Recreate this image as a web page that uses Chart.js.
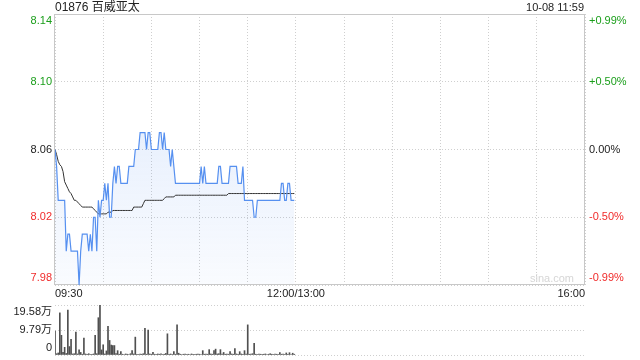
<!DOCTYPE html>
<html>
<head>
<meta charset="utf-8">
<script src="https://cdn.jsdelivr.net/npm/chart.js@4.4.0/dist/chart.umd.min.js"></script>
<style>
  html, body { margin: 0; padding: 0; background: #fff; }
  #wrap { position: relative; width: 640px; height: 360px; font-family: Arial, "Liberation Sans", "Noto Sans CJK SC", sans-serif; color: #222; }
  #title { position: absolute; left: 55px; top: 0; font-size: 12px; line-height: 14px; }
  #stamp { position: absolute; right: 56px; top: 0; font-size: 11px; line-height: 14px; }
  #priceCanvas { position: absolute; left: 0; top: 0; }
  #volCanvas { position: absolute; left: 0; top: 295px; }
</style>
</head>
<body>
<div id="wrap">
  <canvas id="priceCanvas" width="640" height="300"></canvas>
  <canvas id="volCanvas" width="640" height="65"></canvas>
  <div id="title"></div>
  <div id="stamp"></div>
</div>
<script>
const stockName = '01876 百威亚太';
const stampText = '10-08 11:59';
const preClose = 8.06;

// minutes since 09:30 (12:00-13:00 break removed), one value per minute up to 11:59
const prices = [
  8.06, 8.05, 8.03, 8.03, 8.03, 8.03, 8.03, 8.00, 8.01, 8.01,
  8.00, 8.00, 8.00, 8.00, 8.00, 7.98, 8.00, 8.01, 8.01, 8.01,
  8.01, 8.00, 8.01, 8.00, 8.02, 8.02, 8.00, 8.03, 8.02, 8.03,
  8.03, 8.04, 8.03, 8.04, 8.02, 8.02, 8.04, 8.05, 8.04, 8.05,
  8.05, 8.04, 8.04, 8.04, 8.04, 8.04, 8.05, 8.05, 8.05, 8.05,
  8.06, 8.06, 8.06, 8.07, 8.07, 8.07, 8.07, 8.06, 8.07, 8.07,
  8.06, 8.06, 8.06, 8.06, 8.06, 8.07, 8.07, 8.06, 8.07, 8.06,
  8.06, 8.06, 8.05, 8.06, 8.05, 8.04, 8.04, 8.04, 8.04, 8.04,
  8.04, 8.04, 8.04, 8.04, 8.04, 8.04, 8.04, 8.04, 8.04, 8.04,
  8.04, 8.05, 8.04, 8.05, 8.04, 8.04, 8.04, 8.04, 8.04, 8.04,
  8.04, 8.04, 8.05, 8.05, 8.04, 8.04, 8.04, 8.04, 8.04, 8.05,
  8.05, 8.05, 8.05, 8.05, 8.04, 8.04, 8.04, 8.05, 8.03, 8.03,
  8.03, 8.03, 8.03, 8.03, 8.02, 8.02, 8.03, 8.03, 8.03, 8.03,
  8.03, 8.03, 8.03, 8.03, 8.03, 8.03, 8.03, 8.03, 8.03, 8.03,
  8.03, 8.04, 8.04, 8.03, 8.03, 8.04, 8.04, 8.03, 8.03, 8.03
];

const avgPrices = [
  8.060, 8.057, 8.053, 8.051, 8.050, 8.047, 8.041, 8.039, 8.037, 8.035,
  8.034, 8.032, 8.030, 8.030, 8.029, 8.028, 8.027, 8.026, 8.026, 8.026,
  8.026, 8.026, 8.026, 8.026, 8.025, 8.024, 8.023, 8.022, 8.022, 8.022,
  8.022, 8.022, 8.022, 8.023, 8.023, 8.023, 8.024, 8.024, 8.024, 8.024,
  8.024, 8.024, 8.024, 8.024, 8.024, 8.024, 8.024, 8.024, 8.024, 8.026,
  8.026, 8.026, 8.026, 8.026, 8.026, 8.028, 8.030, 8.030, 8.030, 8.030,
  8.030, 8.030, 8.030, 8.030, 8.030, 8.030, 8.030, 8.030, 8.031, 8.032,
  8.032, 8.032, 8.032, 8.032, 8.032, 8.033, 8.033, 8.033, 8.033, 8.033,
  8.033, 8.033, 8.033, 8.033, 8.033, 8.033, 8.033, 8.033, 8.033, 8.033,
  8.033, 8.033, 8.033, 8.033, 8.033, 8.033, 8.033, 8.033, 8.033, 8.033,
  8.033, 8.033, 8.033, 8.033, 8.033, 8.033, 8.033, 8.033, 8.034, 8.034,
  8.034, 8.034, 8.034, 8.034, 8.034, 8.034, 8.034, 8.034, 8.034, 8.034,
  8.034, 8.034, 8.034, 8.034, 8.034, 8.034, 8.034, 8.034, 8.034, 8.034,
  8.034, 8.034, 8.034, 8.034, 8.034, 8.034, 8.034, 8.034, 8.034, 8.034,
  8.034, 8.034, 8.034, 8.034, 8.034, 8.034, 8.034, 8.034, 8.034, 8.034
];

// volume per minute, in 万 shares
const volumes = [
  9.4, 0.5, 0.8, 16.5, 7.7, 1.0, 3.0, 0.6, 17.6, 3.3,
  6.1, 0.4, 0.5, 9.0, 0.4, 2.0, 1.0, 0.3, 6.6, 0.4,
  0.3, 0.5, 0.2, 0.3, 0.4, 7.7, 0.5, 14.6, 19.58, 2.0,
  4.0, 0.4, 1.6, 11.2, 5.7, 3.9, 3.7, 3.7, 0.6, 1.7,
  0.3, 1.3, 0.3, 0.2, 0.4, 0.3, 0.2, 0.5, 1.7, 0.4,
  7.0, 0.3, 0.2, 0.4, 0.3, 0.5, 10.4, 0.3, 9.8, 0.4,
  0.3, 1.0, 0.3, 0.2, 0.4, 0.3, 0.5, 0.2, 0.3, 0.6,
  8.3, 0.3, 0.4, 0.2, 1.3, 0.3, 11.8, 0.7, 0.3, 0.2,
  0.3, 0.4, 0.2, 0.3, 0.2, 0.4, 0.3, 0.2, 0.3, 0.4,
  0.3, 0.2, 1.7, 0.3, 0.4, 0.3, 2.1, 0.4, 0.3, 1.7,
  2.3, 0.4, 0.5, 2.1, 0.4, 1.0, 0.3, 0.4, 0.3, 1.3,
  0.4, 0.3, 2.5, 0.4, 0.3, 1.3, 0.4, 0.3, 1.7, 0.4,
  11.8, 0.3, 0.4, 0.5, 4.6, 0.3, 0.2, 0.4, 0.3, 0.2,
  0.3, 0.4, 0.2, 0.3, 0.5, 0.3, 0.2, 0.4, 0.3, 0.2,
  0.9, 0.3, 0.4, 0.2, 0.8, 0.3, 0.9, 0.2, 0.7, 0.3
];

const priceTicks = [7.98, 8.02, 8.06, 8.10, 8.14];
const volTicks = [0, 9.79, 19.58];
const volTickText = ['0', '9.79万', '19.58万'];
const gridMinutes = [0, 30, 60, 90, 120, 150, 180, 210, 240, 270, 300, 330];
const timeTickPos = [0, 150, 330];
const timeTickText = ['09:30', '12:00/13:00', '16:00'];

document.getElementById('title').textContent = stockName;
document.getElementById('stamp').textContent = stampText;

Chart.defaults.font.family = 'Arial, "Liberation Sans", "Noto Sans CJK SC", sans-serif';
Chart.defaults.font.size = 11;
Chart.defaults.color = '#222';

const GREEN = '#1a9e1a';
const RED = '#f02b2b';

function priceColor(v) {
  if (Math.abs(v - preClose) < 1e-6) return '#222';
  return v > preClose ? GREEN : RED;
}

function pctText(v) {
  const p = (v / preClose - 1) * 100;
  if (Math.abs(p) < 0.005) return '0.00%';
  return (p > 0 ? '+' : '') + p.toFixed(2) + '%';
}

// keep edge labels inside the plot by pushing them half a line inward
function edgeLabel(text, index, count) {
  if (index === count - 1) return ['', text];
  if (index === 0) return [text, ''];
  return text;
}

function fixedWidth(w) {
  return function(scale) {
    scale.width = w;
    scale.paddingTop = 0;
    scale.paddingBottom = 0;
  };
}

const framePlugin = {
  id: 'frame',
  beforeDatasetsDraw(chart) {
    const { ctx, chartArea: a } = chart;
    ctx.save();
    ctx.strokeStyle = '#c8c8c8';
    ctx.lineWidth = 1;
    ctx.strokeRect(a.left - 0.5, a.top + 0.5, a.width, a.height - 1);
    ctx.fillStyle = '#d6d6d6';
    ctx.font = '11px Arial, "Liberation Sans", sans-serif';
    ctx.textAlign = 'right';
    ctx.textBaseline = 'middle';
    ctx.fillText('sina.com', a.right - 11, a.bottom - 6);
    ctx.restore();
  }
};

function initPriceChart() {
  const ctx = document.getElementById('priceCanvas').getContext('2d');
  new Chart(ctx, {
    type: 'line',
    data: {
      datasets: [
        {
          label: '价格',
          data: prices.map((p, i) => ({ x: i, y: p })),
          borderColor: '#5690f0',
          borderWidth: 1.2,
          pointRadius: 0,
          tension: 0,
          fill: 'start',
          backgroundColor: function(context) {
            const area = context.chart.chartArea;
            if (!area) return 'rgba(80,140,240,0.1)';
            const g = context.chart.ctx.createLinearGradient(0, area.top, 0, area.bottom);
            g.addColorStop(0, 'rgba(80,140,240,0.20)');
            g.addColorStop(1, 'rgba(80,140,240,0.03)');
            return g;
          }
        },
        {
          label: '均价',
          data: avgPrices.map((p, i) => ({ x: i, y: p })),
          borderColor: '#333',
          borderWidth: 1,
          pointRadius: 0,
          tension: 0,
          fill: false
        }
      ]
    },
    options: {
      responsive: false,
      animation: false,
      layout: { padding: { top: 14, left: 0, right: 0, bottom: 0 } },
      plugins: {
        legend: { display: false },
        tooltip: { enabled: false },
        filler: { drawTime: 'beforeDatasetsDraw' }
      },
      scales: {
        x: {
          type: 'linear',
          min: 0,
          max: 330,
          afterBuildTicks: function(scale) {
            scale.ticks = gridMinutes.map(v => ({ value: v }));
          },
          afterFit: function(scale) {
            scale.height = 15;
            scale.paddingLeft = 0;
            scale.paddingRight = 0;
          },
          ticks: {
            align: 'inner',
            autoSkip: false,
            maxRotation: 0,
            padding: 2,
            color: '#222',
            callback: function(value) {
              const k = timeTickPos.indexOf(value);
              return k >= 0 ? timeTickText[k] : '';
            }
          },
          grid: { color: '#cfcfcf', drawTicks: false },
          border: { display: false, dash: [1, 2] }
        },
        y: {
          position: 'left',
          min: priceTicks[0],
          max: priceTicks[priceTicks.length - 1],
          afterBuildTicks: function(scale) {
            scale.ticks = priceTicks.map(v => ({ value: v }));
          },
          afterFit: fixedWidth(55),
          ticks: {
            padding: 3,
            autoSkip: false,
            color: ctx => priceColor(ctx.tick.value),
            callback: function(value, index, ticks) {
              return edgeLabel(value.toFixed(2), index, ticks.length);
            }
          },
          grid: { color: '#cfcfcf', drawTicks: false },
          border: { display: false, dash: [1, 2] }
        },
        pct: {
          position: 'right',
          min: priceTicks[0],
          max: priceTicks[priceTicks.length - 1],
          afterBuildTicks: function(scale) {
            scale.ticks = priceTicks.map(v => ({ value: v }));
          },
          afterFit: fixedWidth(55),
          ticks: {
            padding: 4,
            autoSkip: false,
            color: ctx => priceColor(ctx.tick.value),
            callback: function(value, index, ticks) {
              return edgeLabel(pctText(value), index, ticks.length);
            }
          },
          grid: { display: false, drawTicks: false },
          border: { display: false }
        }
      }
    },
    plugins: [framePlugin]
  });
}

function initVolumeChart() {
  const ctx = document.getElementById('volCanvas').getContext('2d');
  new Chart(ctx, {
    type: 'bar',
    data: {
      datasets: [{
        label: '成交量',
        data: volumes.map((v, i) => ({ x: i, y: v })),
        backgroundColor: '#505050',
        barThickness: 1,
        grouped: false
      }]
    },
    options: {
      responsive: false,
      animation: false,
      layout: { padding: { top: 10, left: 0, right: 55, bottom: 5 } },
      plugins: {
        legend: { display: false },
        tooltip: { enabled: false }
      },
      scales: {
        x: {
          type: 'linear',
          min: 0,
          max: 330,
          offset: false,
          grid: { offset: false },
          display: false
        },
        y: {
          position: 'left',
          min: volTicks[0],
          max: volTicks[volTicks.length - 1],
          afterBuildTicks: function(scale) {
            scale.ticks = volTicks.map(v => ({ value: v }));
          },
          afterFit: fixedWidth(55),
          ticks: {
            padding: 3,
            autoSkip: false,
            color: '#222',
            callback: function(value, index, ticks) {
              return edgeLabel(volTickText[index], index, ticks.length);
            }
          },
          grid: { color: '#cfcfcf', drawTicks: false },
          border: { display: false, dash: [1, 2] }
        }
      }
    }
  });
}

initPriceChart();
initVolumeChart();
</script>
</body>
</html>
